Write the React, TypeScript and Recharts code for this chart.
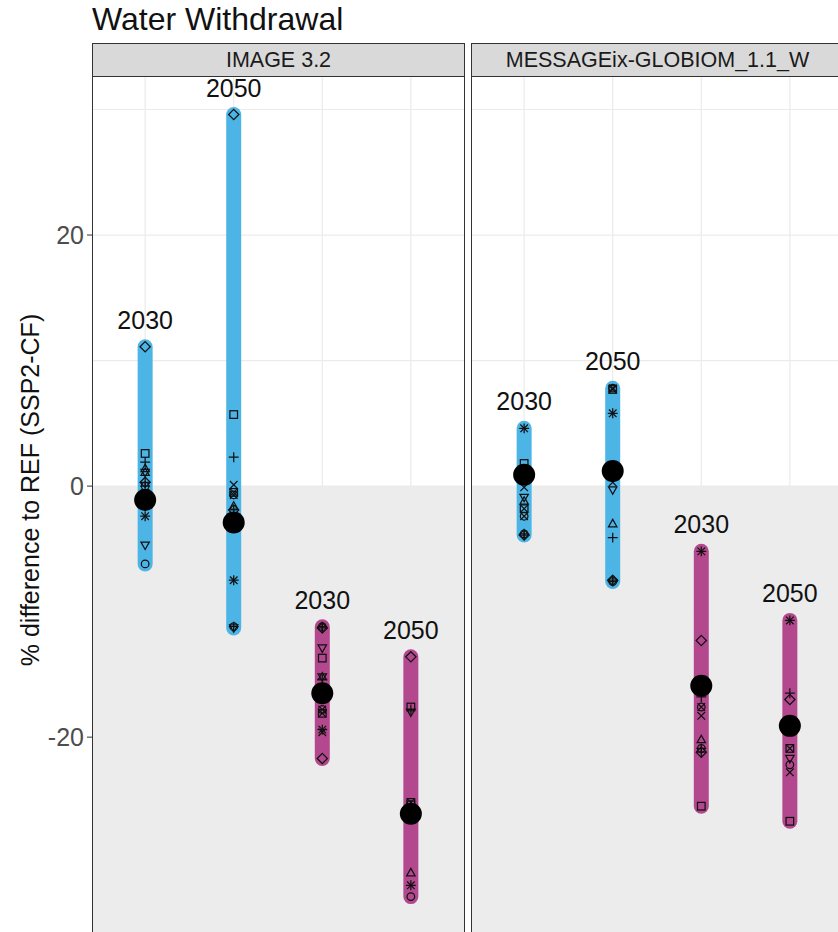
import React from "react";
import {
  ComposedChart,
  Line,
  Scatter,
  XAxis,
  YAxis,
  ReferenceLine,
  ReferenceArea
} from "recharts";

const FONT = '"Liberation Sans", Arial, Helvetica, sans-serif';

// ---- data ----
const panelNames = ["IMAGE 3.2", "MESSAGEix-GLOBIOM_1.1_W"];
const positions = [1, 2, 3, 4];
const years = ["2030", "2050", "2030", "2050"];
const barColors = ["#4DB5E6", "#4DB5E6", "#B4488F", "#B4488F"];
const yTicks = [-20, 0, 20];
const gridY = [-30, -20, -10, 0, 10, 20, 30];

const imageMedians = [-1.1, -2.9, -16.5, -26.1];
const messageMedians = [0.9, 1.2, -15.9, -19.1];

type Mark = { x: number; v: number; s: string };

const imageMarkers: Mark[] = [
  { x: 1, v: 11.1, s: "diamond" },
  { x: 1, v: 2.6, s: "square" },
  { x: 1, v: 1.9, s: "plus" },
  { x: 1, v: 1.4, s: "triangle" },
  { x: 1, v: 1.1, s: "star" },
  { x: 1, v: 0.3, s: "diamondPlus" },
  { x: 1, v: 0.0, s: "circlePlus" },
  { x: 1, v: -0.6, s: "squareCross" },
  { x: 1, v: -1.2, s: "cross" },
  { x: 1, v: -2.4, s: "asterisk" },
  { x: 1, v: -4.7, s: "triangleDown" },
  { x: 1, v: -6.2, s: "circle" },
  { x: 2, v: 29.6, s: "diamond" },
  { x: 2, v: 5.7, s: "square" },
  { x: 2, v: 2.3, s: "plus" },
  { x: 2, v: 0.1, s: "cross" },
  { x: 2, v: -0.5, s: "squareCross" },
  { x: 2, v: -0.7, s: "circleCross" },
  { x: 2, v: -1.6, s: "triangle" },
  { x: 2, v: -1.9, s: "diamondPlus" },
  { x: 2, v: -2.5, s: "star" },
  { x: 2, v: -7.5, s: "asterisk" },
  { x: 2, v: -11.2, s: "circlePlus" },
  { x: 2, v: -11.3, s: "triangleDown" },
  { x: 3, v: -11.2, s: "circlePlus" },
  { x: 3, v: -11.3, s: "diamondPlus" },
  { x: 3, v: -12.9, s: "triangleDown" },
  { x: 3, v: -13.7, s: "square" },
  { x: 3, v: -15.2, s: "star" },
  { x: 3, v: -15.4, s: "plus" },
  { x: 3, v: -17.8, s: "circleCross" },
  { x: 3, v: -18.1, s: "squareCross" },
  { x: 3, v: -19.4, s: "asterisk" },
  { x: 3, v: -19.6, s: "cross" },
  { x: 3, v: -21.7, s: "diamond" },
  { x: 4, v: -13.6, s: "diamond" },
  { x: 4, v: -17.6, s: "square" },
  { x: 4, v: -17.8, s: "plus" },
  { x: 4, v: -18.0, s: "triangleDown" },
  { x: 4, v: -25.2, s: "squareCross" },
  { x: 4, v: -25.4, s: "squarePlus" },
  { x: 4, v: -26.3, s: "cross" },
  { x: 4, v: -30.8, s: "triangle" },
  { x: 4, v: -31.8, s: "asterisk" },
  { x: 4, v: -32.7, s: "circle" }
];

const messageMarkers: Mark[] = [
  { x: 1, v: 4.6, s: "asterisk" },
  { x: 1, v: 1.8, s: "square" },
  { x: 1, v: 1.2, s: "squarePlus" },
  { x: 1, v: -0.1, s: "cross" },
  { x: 1, v: -0.9, s: "triangleDown" },
  { x: 1, v: -1.2, s: "triangle" },
  { x: 1, v: -1.8, s: "squareCross" },
  { x: 1, v: -2.4, s: "circleCross" },
  { x: 1, v: -3.8, s: "circlePlus" },
  { x: 1, v: -3.9, s: "diamondPlus" },
  { x: 2, v: 7.8, s: "circleCross" },
  { x: 2, v: 7.7, s: "squareCross" },
  { x: 2, v: 5.8, s: "asterisk" },
  { x: 2, v: 0.3, s: "cross" },
  { x: 2, v: -0.3, s: "triangleDown" },
  { x: 2, v: -3.0, s: "triangle" },
  { x: 2, v: -4.1, s: "plus" },
  { x: 2, v: -7.5, s: "diamondPlus" },
  { x: 2, v: -7.6, s: "circlePlus" },
  { x: 3, v: -5.2, s: "asterisk" },
  { x: 3, v: -12.3, s: "diamond" },
  { x: 3, v: -16.8, s: "plus" },
  { x: 3, v: -17.6, s: "circleCross" },
  { x: 3, v: -18.3, s: "cross" },
  { x: 3, v: -20.2, s: "triangle" },
  { x: 3, v: -20.9, s: "circlePlus" },
  { x: 3, v: -21.2, s: "diamondPlus" },
  { x: 3, v: -25.5, s: "square" },
  { x: 4, v: -10.7, s: "asterisk" },
  { x: 4, v: -16.5, s: "plus" },
  { x: 4, v: -17.0, s: "diamond" },
  { x: 4, v: -20.9, s: "squareCross" },
  { x: 4, v: -21.7, s: "triangleDown" },
  { x: 4, v: -22.2, s: "circle" },
  { x: 4, v: -22.8, s: "cross" },
  { x: 4, v: -26.7, s: "square" }
];

// ---- layout ----
const Y_DOMAIN: [number, number] = [-36, 32.67];
const PANEL_TOP = 76;
const PANEL_W = 372;
const AXIS_W = 92;
const CHART_H = 862;

const parts: Record<string, string[]> = {
  square: ["sq"],
  circle: ["ci"],
  triangle: ["tu"],
  plus: ["+"],
  cross: ["x"],
  diamond: ["di"],
  triangleDown: ["td"],
  squareCross: ["sq", "x"],
  asterisk: ["+", "x"],
  diamondPlus: ["di", "+"],
  circlePlus: ["ci", "+"],
  star: ["tu", "td"],
  squarePlus: ["sq", "+"],
  circleCross: ["ci", "x"],
  squareTriangle: ["sq", "tu"]
};

function Glyph(props: any) {
  const { cx, cy, payload } = props;
  if (cx == null || cy == null) return null;
  const r = 3.8;
  const st = { fill: "none", stroke: "#111", strokeWidth: 1.25 };
  const list = parts[payload.s] || ["ci"];
  return (
    <g>
      {list.map((p, i) => {
        switch (p) {
          case "sq":
            return <rect key={i} x={cx - r} y={cy - r} width={2 * r} height={2 * r} {...st} />;
          case "ci":
            return <circle key={i} cx={cx} cy={cy} r={r} {...st} />;
          case "tu":
            return (
              <path key={i} d={`M${cx},${cy - r * 1.15}L${cx + r * 1.1},${cy + r * 0.8}L${cx - r * 1.1},${cy + r * 0.8}Z`} {...st} />
            );
          case "td":
            return (
              <path key={i} d={`M${cx},${cy + r * 1.15}L${cx + r * 1.1},${cy - r * 0.8}L${cx - r * 1.1},${cy - r * 0.8}Z`} {...st} />
            );
          case "di":
            return (
              <path key={i} d={`M${cx},${cy - r * 1.35}L${cx + r * 1.35},${cy}L${cx},${cy + r * 1.35}L${cx - r * 1.35},${cy}Z`} {...st} />
            );
          case "+":
            return (
              <path key={i} d={`M${cx - r * 1.3},${cy}H${cx + r * 1.3}M${cx},${cy - r * 1.3}V${cy + r * 1.3}`} {...st} />
            );
          default:
            return (
              <path key={i} d={`M${cx - r},${cy - r}L${cx + r},${cy + r}M${cx - r},${cy + r}L${cx + r},${cy - r}`} {...st} />
            );
        }
      })}
    </g>
  );
}

function MedianDot(props: any) {
  const { cx, cy } = props;
  if (cx == null || cy == null) return null;
  return <circle cx={cx} cy={cy} r={11} fill="#000" />;
}

function YearLabel(props: any) {
  const { cx, cy, payload } = props;
  if (cx == null || cy == null) return null;
  return (
    <text x={cx} y={cy - 18} textAnchor="middle" fontSize={25} fontFamily={FONT} fill="#111">
      {payload.t}
    </text>
  );
}

function Panel({
  markers,
  medians,
  withAxis
}: {
  markers: Mark[];
  medians: number[];
  withAxis: boolean;
}) {
  const ranges = positions.map((x) => {
    const vals = markers.filter((m) => m.x === x).map((m) => m.v);
    return { x, lo: Math.min(...vals), hi: Math.max(...vals) };
  });
  const medianData = positions.map((x, i) => ({ x, v: medians[i] }));
  const labelData = ranges.map((r, i) => ({ x: r.x, v: r.hi, t: years[i] }));

  return (
    <ComposedChart
      width={withAxis ? AXIS_W + PANEL_W : PANEL_W}
      height={CHART_H}
      margin={{ top: 0, right: 0, bottom: 0, left: 0 }}
      style={{ overflow: "visible" }}
    >
      <XAxis type="number" dataKey="x" domain={[0.4, 4.6]} hide allowDataOverflow />
      <YAxis
        type="number"
        domain={Y_DOMAIN}
        allowDataOverflow
        ticks={yTicks}
        hide={!withAxis}
        width={AXIS_W}
        axisLine={false}
        tickLine={{ stroke: "#333", strokeWidth: 1 }}
        tickSize={5}
        tickMargin={3}
        tick={{ fill: "#4D4D4D", fontSize: 25, fontFamily: FONT }}
      />
      {gridY.map((g) => (
        <ReferenceLine key={"h" + g} y={g} stroke="#EBEBEB" strokeWidth={1.2} />
      ))}
      {positions.map((p) => (
        <ReferenceLine key={"v" + p} x={p} stroke="#EBEBEB" strokeWidth={1.2} />
      ))}
      <ReferenceArea y1={Y_DOMAIN[0]} y2={0} fill="#000" fillOpacity={0.075} stroke="none" />
      {ranges.map((r, i) => (
        <Line
          key={"r" + i}
          data={[
            { x: r.x, v: r.lo },
            { x: r.x, v: r.hi }
          ]}
          dataKey="v"
          stroke={barColors[i]}
          strokeWidth={15}
          strokeLinecap="round"
          dot={false}
          activeDot={false}
          isAnimationActive={false}
        />
      ))}
      <Scatter data={markers} dataKey="v" shape={Glyph} isAnimationActive={false} />
      <Scatter data={medianData} dataKey="v" shape={MedianDot} isAnimationActive={false} />
      <Scatter data={labelData} dataKey="v" shape={YearLabel} isAnimationActive={false} />
    </ComposedChart>
  );
}

const boxBorder = "1px solid #333";

export default function App() {
  const lefts = [AXIS_W, AXIS_W + PANEL_W + 7];
  return (
    <div
      style={{
        position: "absolute",
        left: 0,
        top: 0,
        width: 838,
        height: 932,
        overflow: "hidden",
        background: "#fff",
        fontFamily: FONT
      }}
    >
      <div
        style={{
          position: "absolute",
          left: 92,
          top: 3,
          fontSize: 32,
          lineHeight: "32px",
          color: "#111",
          whiteSpace: "nowrap"
        }}
      >
        Water Withdrawal
      </div>

      <div
        style={{
          position: "absolute",
          left: 30,
          top: 490,
          transform: "translate(-50%, -50%) rotate(-90deg)",
          fontSize: 25,
          color: "#111",
          whiteSpace: "nowrap"
        }}
      >
        % difference to REF (SSP2-CF)
      </div>

      {panelNames.map((name, i) => (
        <div
          key={"strip" + i}
          style={{
            position: "absolute",
            left: lefts[i],
            top: 43,
            width: PANEL_W + 1,
            height: 34,
            boxSizing: "border-box",
            border: boxBorder,
            background: "#D9D9D9",
            color: "#1A1A1A",
            fontSize: 21.5,
            lineHeight: "32px",
            textAlign: "center",
            whiteSpace: "nowrap"
          }}
        >
          {name}
        </div>
      ))}

      <div style={{ position: "absolute", left: 0, top: PANEL_TOP }}>
        <Panel markers={imageMarkers} medians={imageMedians} withAxis />
      </div>
      <div style={{ position: "absolute", left: lefts[1], top: PANEL_TOP }}>
        <Panel markers={messageMarkers} medians={messageMedians} withAxis={false} />
      </div>

      {lefts.map((l, i) => (
        <div
          key={"border" + i}
          style={{
            position: "absolute",
            left: l,
            top: PANEL_TOP,
            width: PANEL_W + 1,
            height: CHART_H + 20,
            boxSizing: "border-box",
            border: boxBorder,
            pointerEvents: "none"
          }}
        />
      ))}
    </div>
  );
}
